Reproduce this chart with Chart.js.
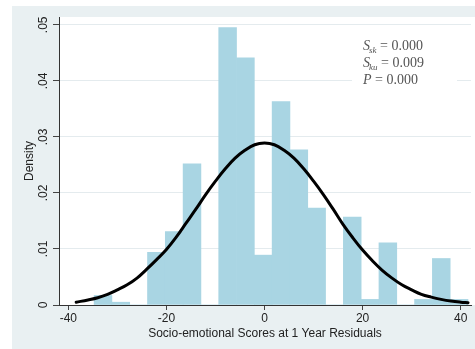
<!DOCTYPE html>
<html>
<head>
<meta charset="utf-8">
<script src="https://cdn.jsdelivr.net/npm/chart.js@4.4.1/dist/chart.umd.min.js"></script>
<style>
  html, body { margin: 0; padding: 0; background: #fff; }
  canvas { display: block; }
</style>
</head>
<body>
<canvas id="hist" width="475" height="349"></canvas>
<script>
// Histogram bins (centre of each bin) and their densities
const binCenters = [-32.93, -29.30, -25.67, -22.04, -18.41, -14.78, -11.15, -7.52, -3.89, -0.26,
                    3.37, 7.00, 10.63, 14.26, 17.89, 21.52, 25.15, 28.78, 32.41, 36.04, 39.67];
const binDensity = [0.0017, 0.0005, 0.0000, 0.0094, 0.0131, 0.0252, 0.0000, 0.0495, 0.0441, 0.0089,
                    0.0363, 0.0277, 0.0173, 0.0000, 0.0157, 0.0010, 0.0111, 0.0000, 0.0010, 0.0083, 0.0010];

// Normal density overlay
const curveX = [-38.4, -36, -34, -32, -30, -28, -26, -24, -22, -20, -18, -16, -14, -12, -10, -8, -6, -4, -2, 0,
                2, 4, 6, 8, 10, 12, 14, 16, 18, 20, 22, 24, 26, 28, 30, 32, 34, 36, 38, 40, 41.5];
const curveY = [0.0005, 0.0009, 0.0013, 0.0019, 0.0027, 0.0036, 0.0048, 0.0064, 0.0081, 0.0099,
                0.0121, 0.0146, 0.0171, 0.0197, 0.0221, 0.0243, 0.0262, 0.0276, 0.0286, 0.0289,
                0.0286, 0.0276, 0.0262, 0.0243, 0.0221, 0.0197, 0.0171, 0.0144, 0.0120, 0.0098,
                0.0079, 0.0062, 0.0048, 0.0036, 0.0027, 0.0019, 0.0014, 0.0010, 0.0007, 0.0005, 0.0004];

const xTicks = [-40, -20, 0, 20, 40];
const yTicks = [0, 0.01, 0.02, 0.03, 0.04, 0.05];
const yTickLabels = ['0', '.01', '.02', '.03', '.04', '.05'];
const xTitle = 'Socio-emotional Scores at 1 Year Residuals';
const yTitle = 'Density';

// Normality test statistics shown in the corner
const statSymbols = ['S', 'S', 'P'];
const statSubs = ['sk', 'ku', ''];
const statValues = ['0.000', '0.009', '0.000'];

const SANS = "'Liberation Sans', Arial, sans-serif";
const SERIF = "'Liberation Serif', 'Times New Roman', serif";

const backdrop = {
  id: 'backdrop',
  beforeDraw(chart) {
    const { ctx, chartArea: a, width, height } = chart;
    ctx.save();
    ctx.fillStyle = '#ffffff';
    ctx.fillRect(0, 0, width, height);
    ctx.fillStyle = '#e9f0f2';
    ctx.fillRect(12, 6, width - 12, height - 6);
    ctx.fillStyle = '#ffffff';
    ctx.fillRect(a.left, a.top, width - a.left, a.bottom - a.top);
    ctx.restore();
  }
};

const annotations = {
  id: 'annotations',
  afterDraw(chart) {
    const { ctx, chartArea: a } = chart;
    const y = chart.scales.y;
    ctx.save();
    // vertical y tick labels
    ctx.fillStyle = '#222';
    ctx.font = '12px ' + SANS;
    ctx.textAlign = 'center';
    ctx.textBaseline = 'middle';
    yTicks.forEach((v, i) => {
      ctx.save();
      ctx.translate(44, y.getPixelForValue(v));
      ctx.rotate(-Math.PI / 2);
      ctx.fillText(yTickLabels[i], 0, 0);
      ctx.restore();
    });
    // y axis title
    ctx.save();
    ctx.translate(30, (a.top + a.bottom) / 2);
    ctx.rotate(-Math.PI / 2);
    ctx.fillText(yTitle, 0, 0);
    ctx.restore();

    // statistics box
    ctx.fillStyle = '#ffffff';
    ctx.fillRect(352, 32, 105, 58);
    ctx.fillStyle = '#555';
    ctx.textAlign = 'left';
    ctx.textBaseline = 'alphabetic';
    const baselines = [50, 67, 84];
    statSymbols.forEach((s, i) => {
      let x = 363;
      const b = baselines[i];
      ctx.font = 'italic 14px ' + SERIF;
      ctx.fillText(s, x, b);
      x += ctx.measureText(s).width;
      if (statSubs[i]) {
        ctx.font = 'italic 9px ' + SERIF;
        ctx.fillText(statSubs[i], x - 1, b + 3);
        x += ctx.measureText(statSubs[i]).width - 1;
      }
      ctx.font = '14px ' + SERIF;
      ctx.fillText(' = ' + statValues[i], x, b);
    });
    ctx.restore();
  }
};

new Chart(document.getElementById('hist').getContext('2d'), {
  type: 'bar',
  data: {
    datasets: [
      {
        type: 'line',
        data: curveX.map((x, i) => ({ x, y: curveY[i] })),
        borderColor: '#000000',
        borderWidth: 3,
        pointRadius: 0,
        tension: 0.4,
        fill: false,
        borderCapStyle: 'round',
        order: 0
      },
      {
        type: 'bar',
        data: binCenters.map((x, i) => ({ x, y: binDensity[i] })),
        backgroundColor: '#a9d5e3',
        borderWidth: 0,
        barPercentage: 1,
        categoryPercentage: 1,
        order: 1
      }
    ]
  },
  options: {
    responsive: false,
    animation: false,
    devicePixelRatio: 1,
    layout: { padding: { top: 17, right: 4, left: 0, bottom: 0 } },
    plugins: { legend: { display: false }, tooltip: { enabled: false } },
    scales: {
      x: {
        type: 'linear',
        offset: false,
        min: -41.9,
        max: 42.1,
        afterBuildTicks: s => { s.ticks = xTicks.map(v => ({ value: v })); },
        afterFit: s => { s.height = 44; },
        grid: { offset: false, drawOnChartArea: false, tickLength: 5, tickColor: '#444' },
        border: { color: '#333', width: 1 },
        ticks: {
          color: '#222',
          font: { family: SANS, size: 12 },
          padding: 1,
          maxRotation: 0,
          callback: v => String(v)
        },
        title: {
          display: true,
          text: xTitle,
          color: '#222',
          font: { family: SANS, size: 12 },
          padding: { top: 0, bottom: 8 }
        }
      },
      y: {
        type: 'linear',
        min: 0,
        max: 0.0514,
        afterBuildTicks: s => { s.ticks = yTicks.map(v => ({ value: v })); },
        afterFit: s => { s.width = 59; },
        grid: {
          color: c => (c.tick && c.tick.value === 0) ? 'rgba(0,0,0,0)' : '#e4ebee',
          tickLength: 6,
          tickColor: '#444'
        },
        border: { color: '#333', width: 1 },
        ticks: { display: false }
      }
    }
  },
  plugins: [backdrop, annotations]
});
</script>
</body>
</html>
